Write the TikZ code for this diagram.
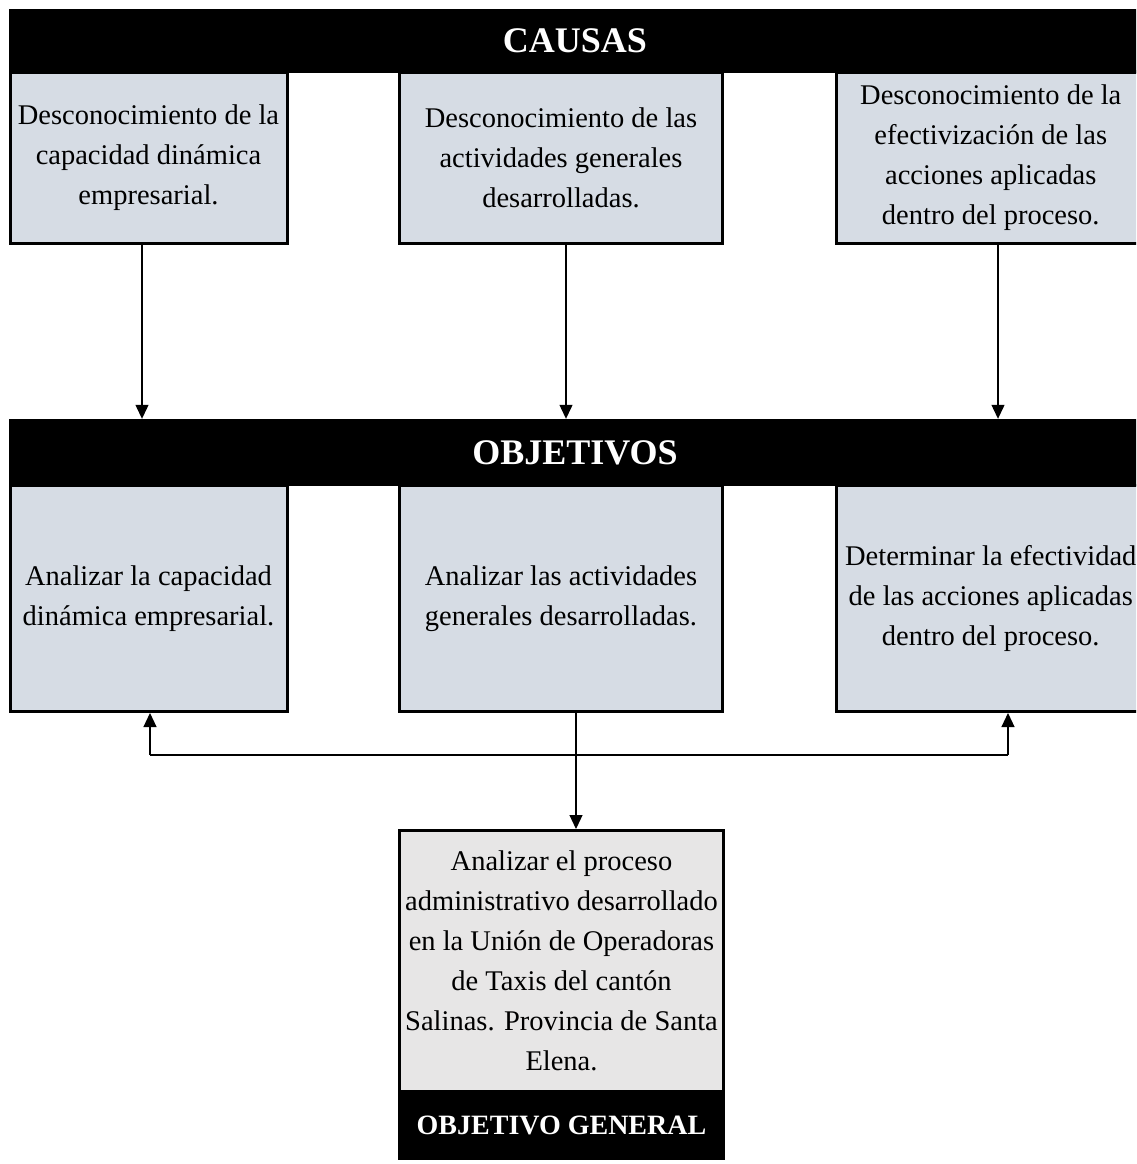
\documentclass[tikz,border=0pt]{standalone}
\usepackage{fontspec}
\setmainfont{Liberation Serif}
\usetikzlibrary{arrows.meta}
\definecolor{boxblue}{HTML}{D6DCE4}
\definecolor{boxgrey}{HTML}{E7E6E6}
\tikzset{
  box/.style={draw=black, line width=3pt, fill=boxblue, inner sep=0pt, align=center,
    font=\fontsize{28.5}{40}\selectfont},
  gbox/.style={box, fill=boxgrey},
  banner/.style={fill=black, text=white, inner sep=0pt, align=center,
    font=\fontsize{36}{40}\selectfont\bfseries},
  glabel/.style={fill=black, text=white, inner sep=0pt, align=center,
    font=\fontsize{28}{32}\selectfont\bfseries},
  arr/.style={line width=1.2pt, -{Triangle[width=13pt,length=14pt]}},
  hline/.style={line width=1.1pt}
}
\begin{document}
\begin{tikzpicture}[x=1pt,y=1pt]
\useasboundingbox (0,0) rectangle (1136,-1164);
\clip (0,0) rectangle (1136,-1164);
% causes boxes
\node[box, minimum width=277pt, minimum height=171.5pt] (C1) at (148.5,-157.75)
  {Desconocimiento de la\\capacidad dinámica\\empresarial.};
\node[box, minimum width=323pt, minimum height=171.5pt] (C2) at (561,-157.75)
  {Desconocimiento de las\\actividades generales\\desarrolladas.};
\node[box, minimum width=308.5pt, minimum height=171.5pt] (C3) at (990.75,-157.75)
  {Desconocimiento de la\\efectivización de las\\acciones aplicadas\\dentro del proceso.};
\node[banner, minimum width=1132pt, minimum height=64pt] (B1) at (575,-41) {CAUSAS};
% objectives boxes
\node[box, minimum width=277pt, minimum height=226.5pt] (O1) at (148.5,-598.25)
  {Analizar la capacidad\\dinámica empresarial.};
\node[box, minimum width=323pt, minimum height=226.5pt] (O2) at (561,-598.25)
  {Analizar las actividades\\generales desarrolladas.};
\node[box, minimum width=308.5pt, minimum height=226.5pt] (O3) at (990.75,-598.25)
  {Determinar la efectividad\\de las acciones aplicadas\\dentro del proceso.};
\node[banner, minimum width=1132pt, minimum height=67pt] (B2) at (575,-452.5) {OBJETIVOS};
% general objective
\node[gbox, minimum width=324pt, minimum height=260.5pt] (G) at (561.5,-960.75)
  {Analizar el proceso\\administrativo desarrollado\\en la Unión de Operadoras\\de Taxis del cantón\\Salinas. Provincia de Santa\\Elena.};
\node[glabel, minimum width=327pt, minimum height=70pt] (GL) at (561.5,-1125) {OBJETIVO GENERAL};
% connectors
\coordinate (a1) at (142,0);
\coordinate (a2) at (566,0);
\coordinate (a3) at (998,0);
\draw[arr] (C1.south -| a1) -- (B2.north -| a1);
\draw[arr] (C2.south -| a2) -- (B2.north -| a2);
\draw[arr] (C3.south -| a3) -- (B2.north -| a3);
\coordinate (m) at (576,0);
\draw[arr] (O2.south -| m) -- (G.north -| m);
\coordinate (hl) at (150,-755);
\coordinate (hr) at (1008,-755);
\draw[hline] (hl) -- (hr);
\draw[arr] (hl) -- (hl |- O1.south);
\draw[arr] (hr) -- (hr |- O3.south);
\end{tikzpicture}
\end{document}
